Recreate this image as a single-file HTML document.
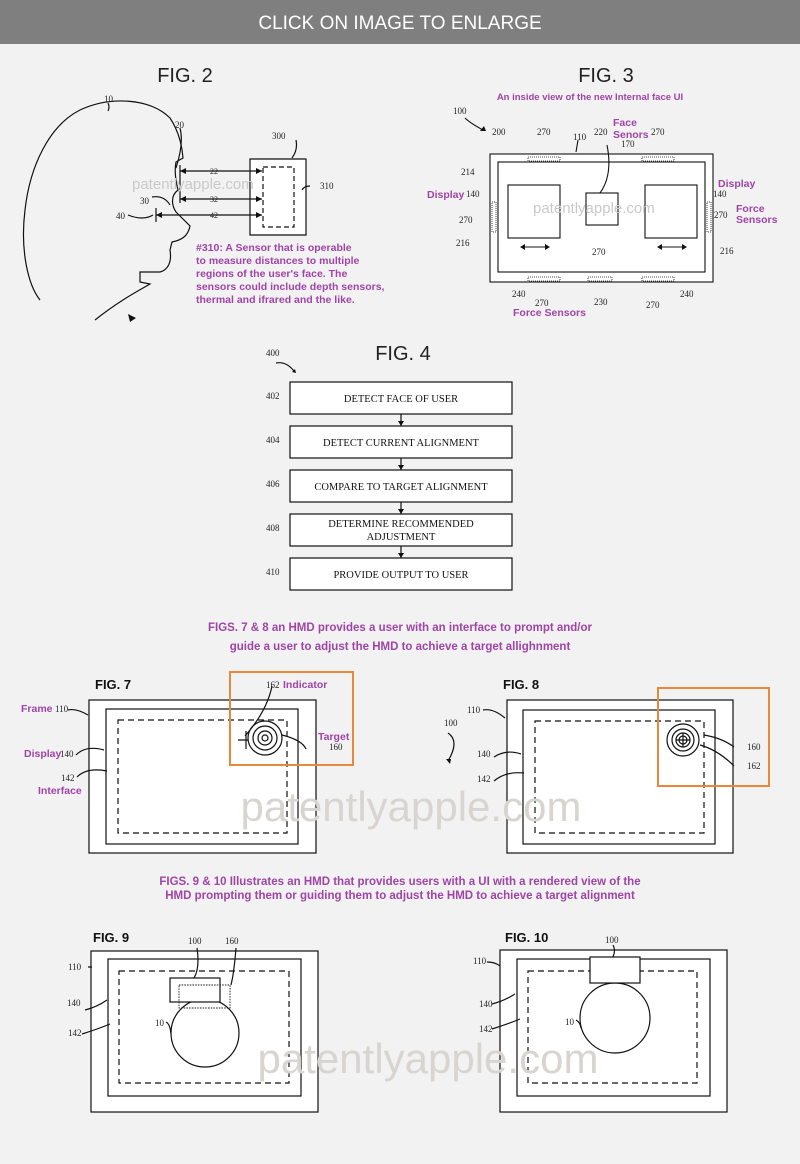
<!DOCTYPE html>
<html><head><meta charset="utf-8"><style>
html,body{margin:0;padding:0;background:#f2f2f2}
svg{display:block}
</style></head><body>
<svg width="800" height="1164" viewBox="0 0 800 1164" xmlns="http://www.w3.org/2000/svg" font-family="Liberation Sans, sans-serif">
<rect width="800" height="1164" fill="#f2f2f2"/>
<rect width="800" height="44" fill="#7f7f7f"/>
<text x="400" y="29" text-anchor="middle" fill="#fff" font-size="19">CLICK ON IMAGE TO ENLARGE</text>

<g stroke="#111" fill="none" stroke-width="1.2">
<!-- FIG 2 head -->
<path d="M40,300 C28,285 20,250 25,210 C30,165 50,125 80,110 C110,96 150,98 170,118 C178,130 182,145 183,158 L176,162 C174,172 176,182 178,190 C170,196 172,206 176,212 L190,226 C188,236 182,240 172,242 L170,250 C172,262 168,270 160,272 L140,272 L140,282 L150,284 C140,290 120,300 95,320"/>
<path d="M250,159h56v76h-56z" fill="#fff"/>
<path d="M263,167h31v60h-31z" stroke-dasharray="5,3"/>
<path d="M180,171h82M180,199h82M156,215h106M180,165v38M156,208v14"/>
<path d="M108,103 q2,4 0,8M180,128 q4,15 -4,40M296,140 q2,10 -4,18M310,186 q-6,0 -8,4M152,197 q12,-2 18,8M128,215 q15,6 25,0"/>
</g>
<g fill="#111"><path d="M262,171l-6,-3v6zM262,199l-6,-3v6zM262,215l-6,-3v6zM180,171l6,-3v6zM180,199l6,-3v6zM156,215l6,-3v6z"/><path d="M128,314l8,4l-6,4z"/></g>
<text x="185" y="82" text-anchor="middle" font-size="20" fill="#222">FIG. 2</text>
<g font-family="Liberation Serif, serif" font-size="9" fill="#222">
<text x="104" y="102">10</text><text x="175" y="128">20</text><text x="272" y="139">300</text>
<text x="320" y="189">310</text><text x="140" y="204">30</text><text x="116" y="219">40</text>
<text x="210" y="174" font-size="8">22</text><text x="210" y="202" font-size="8">32</text><text x="210" y="218" font-size="8">42</text></g>
<text x="132" y="189" fill="#c9c9c9" font-size="15">patentlyapple.com</text>
<g fill="#a044a8" font-weight="bold" font-size="10.5">
<text x="196" y="251">#310: A Sensor that is operable</text>
<text x="196" y="264">to measure distances to multiple</text>
<text x="196" y="277">regions of the user's face. The</text>
<text x="196" y="290">sensors could include depth sensors,</text>
<text x="196" y="303">thermal and ifrared and the like.</text></g>

<!-- FIG 3 -->
<text x="606" y="82" text-anchor="middle" font-size="20" fill="#222">FIG. 3</text>
<text x="590" y="100" text-anchor="middle" font-size="9.5" fill="#a044a8" font-weight="bold">An inside view of the new Internal face UI</text>
<g stroke="#111" fill="none" stroke-width="1.1">
<rect x="490" y="154" width="223" height="128" fill="#fff"/>
<rect x="498" y="162" width="207" height="110"/>
<rect x="508" y="185" width="52" height="53"/><rect x="586" y="193" width="32" height="32"/><rect x="645" y="185" width="52" height="53"/>
<g stroke-width="0.8" stroke-dasharray="1,1"><rect x="528" y="157" width="32" height="4"/><rect x="642" y="157" width="32" height="4"/><rect x="528" y="277" width="32" height="4"/><rect x="588" y="277" width="24" height="4"/><rect x="642" y="277" width="32" height="4"/><rect x="492" y="202" width="4" height="30"/><rect x="707" y="202" width="4" height="30"/></g>
<path d="M522,247h26M659,247h26M465,118 q5,5 18,12M578,140 l-2,12M607,145 q6,30 -7,48"/>
</g>
<g fill="#111"><path d="M520,247l5,-3v6zM550,247l-5,-3v6zM657,247l5,-3v6zM687,247l-5,-3v6zM486,131l-6,0l4,-5z"/></g>
<g font-family="Liberation Serif, serif" font-size="9" fill="#222"><text x="453" y="114">100</text><text x="492" y="135">200</text><text x="537" y="135">270</text><text x="573" y="140">110</text><text x="594" y="135">220</text><text x="621" y="147">170</text><text x="651" y="135">270</text>
<text x="461" y="175">214</text><text x="466" y="197">140</text><text x="459" y="223">270</text><text x="456" y="246">216</text>
<text x="713" y="197">140</text><text x="714" y="218">270</text><text x="720" y="254">216</text>
<text x="592" y="255">270</text><text x="512" y="297">240</text><text x="535" y="306">270</text><text x="594" y="305">230</text><text x="646" y="308">270</text><text x="680" y="297">240</text></g>
<g fill="#a044a8" font-weight="bold" font-size="10.5"><text x="427" y="198">Display</text><text x="613" y="126">Face</text><text x="613" y="138">Senors</text><text x="718" y="187">Display</text><text x="736" y="212">Force</text><text x="736" y="223">Sensors</text><text x="513" y="316">Force Sensors</text></g>
<text x="533" y="213" fill="#c9c9c9" font-size="15">patentlyapple.com</text>

<!-- FIG 4 -->
<text x="403" y="360" text-anchor="middle" font-size="20" fill="#222">FIG. 4</text>
<g stroke="#111" fill="#fff" stroke-width="1.2">
<rect x="290" y="382" width="222" height="32"/><rect x="290" y="426" width="222" height="32"/><rect x="290" y="470" width="222" height="32"/><rect x="290" y="514" width="222" height="32"/><rect x="290" y="558" width="222" height="32"/>
<path d="M401,414v12M401,458v12M401,502v12M401,546v12" fill="none"/><path d="M276,363 q10,-2 18,8" fill="none"/>
</g>
<g fill="#111"><path d="M401,426l-3,-5h6zM401,470l-3,-5h6zM401,514l-3,-5h6zM401,558l-3,-5h6zM296,373l-4,-1l3,-3z"/></g>
<g font-family="Liberation Serif, serif" font-size="9" fill="#222"><text x="266" y="356">400</text><text x="266" y="399">402</text><text x="266" y="443">404</text><text x="266" y="487">406</text><text x="266" y="531">408</text><text x="266" y="575">410</text></g>
<g font-family="Liberation Serif, serif" font-size="10.5" fill="#111" text-anchor="middle"><text x="401" y="402">DETECT FACE OF USER</text><text x="401" y="446">DETECT CURRENT ALIGNMENT</text><text x="401" y="490">COMPARE TO TARGET ALIGNMENT</text><text x="401" y="527">DETERMINE RECOMMENDED</text><text x="401" y="540">ADJUSTMENT</text><text x="401" y="578">PROVIDE OUTPUT TO USER</text></g>

<g fill="#a044a8" font-weight="bold" font-size="11.5" text-anchor="middle">
<text x="400" y="631">FIGS. 7 &amp; 8 an HMD provides a user with an interface to prompt and/or</text>
<text x="400" y="650">guide a user to adjust the HMD to achieve a target allighnment</text></g>

<!-- FIG 7 -->
<text x="95" y="689" font-weight="bold" font-size="13" fill="#111">FIG. 7</text>
<g stroke="#111" fill="none" stroke-width="1.2">
<rect x="89" y="700" width="227" height="153" fill="#fff"/><rect x="106" y="709" width="192" height="135"/><rect x="118" y="720" width="169" height="113" stroke-dasharray="6,4"/>
<circle cx="265" cy="738" r="17"/><circle cx="265" cy="738" r="12"/><circle cx="265" cy="738" r="7"/><circle cx="265" cy="738" r="3"/>
<path d="M238,740h10M246,731v18M272,686 q-5,25 -27,50M282,735 q20,5 24,14M68,710 q8,-2 20,5M76,755 q10,-10 28,-5M77,777 q10,-10 30,-6"/>
</g>
<rect x="230" y="672" width="123" height="93" fill="none" stroke="#e8883a" stroke-width="2"/>
<g font-family="Liberation Serif, serif" font-size="9" fill="#222"><text x="266" y="688">162</text><text x="55" y="712">110</text><text x="60" y="757">140</text><text x="61" y="781">142</text><text x="329" y="750">160</text></g>
<g fill="#a044a8" font-weight="bold" font-size="10.5"><text x="283" y="688">Indicator</text><text x="21" y="712">Frame</text><text x="24" y="757">Display</text><text x="318" y="740">Target</text><text x="38" y="794">Interface</text></g>

<!-- FIG 8 -->
<text x="503" y="689" font-weight="bold" font-size="13" fill="#111">FIG. 8</text>
<g stroke="#111" fill="none" stroke-width="1.2">
<rect x="507" y="700" width="226" height="153" fill="#fff"/><rect x="523" y="710" width="192" height="134"/><rect x="535" y="721" width="169" height="112" stroke-dasharray="6,4"/>
<circle cx="683" cy="740" r="16"/><circle cx="683" cy="740" r="11"/><circle cx="683" cy="740" r="7"/><circle cx="683" cy="740" r="4"/>
<path d="M676,740h14M683,733v14M704,735 q18,3 30,12M700,745 q18,5 34,21M483,710 q10,-2 22,8M494,757 q12,-8 27,-3M494,781 q12,-10 30,-8M448,733 q12,8 0,28"/>
</g>
<path d="M450,764l-4,-5l5,0z" fill="#111"/>
<rect x="658" y="688" width="111" height="98" fill="none" stroke="#e8883a" stroke-width="2"/>
<g font-family="Liberation Serif, serif" font-size="9" fill="#222"><text x="467" y="713">110</text><text x="444" y="726">100</text><text x="477" y="757">140</text><text x="477" y="782">142</text><text x="747" y="750">160</text><text x="747" y="769">162</text></g>

<text x="411" y="821" text-anchor="middle" fill="#d8d4d0" font-size="42">patentlyapple.com</text>

<g fill="#a044a8" font-weight="bold" font-size="11.5" text-anchor="middle">
<text x="400" y="885">FIGS. 9 &amp; 10 Illustrates an HMD that provides users with a UI with a rendered view of the</text>
<text x="400" y="899">HMD prompting them or guiding them to adjust the HMD to achieve a target alignment</text></g>

<!-- FIG 9 -->
<text x="93" y="942" font-weight="bold" font-size="13" fill="#111">FIG. 9</text>
<g stroke="#111" fill="none" stroke-width="1.2">
<rect x="91" y="951" width="227" height="161" fill="#fff"/><rect x="108" y="959" width="193" height="137"/><rect x="119" y="971" width="170" height="112" stroke-dasharray="6,4"/>
<circle cx="205" cy="1033" r="34"/><rect x="170" y="978" width="50" height="24" fill="#fff"/>
<rect x="179" y="985" width="51" height="23" stroke-dasharray="1.5,1.2" stroke-width="0.9"/>
<path d="M197,948 q3,20 -3,30M236,948 q-2,25 -5,37M85,1010 q12,-3 22,-10M82,1034 q16,-5 28,-10M166,1022 q4,2 5,12M88,967 h4"/>
</g>
<g font-family="Liberation Serif, serif" font-size="9" fill="#222"><text x="188" y="944">100</text><text x="225" y="944">160</text><text x="68" y="970">110</text><text x="67" y="1006">140</text><text x="68" y="1036">142</text><text x="155" y="1026">10</text></g>

<!-- FIG 10 -->
<text x="505" y="942" font-weight="bold" font-size="13" fill="#111">FIG. 10</text>
<g stroke="#111" fill="none" stroke-width="1.2">
<rect x="500" y="950" width="227" height="162" fill="#fff"/><rect x="517" y="959" width="193" height="137"/><rect x="528" y="971" width="169" height="112" stroke-dasharray="6,4"/>
<circle cx="615" cy="1018" r="35"/><rect x="590" y="957" width="50" height="26" fill="#fff"/>
<path d="M613,945 q3,5 0,12M487,962 q8,0 13,4M492,1004 q12,-3 23,-10M492,1029 q16,-5 28,-10M576,1020 q4,2 5,8"/>
</g>
<g font-family="Liberation Serif, serif" font-size="9" fill="#222"><text x="605" y="943">100</text><text x="473" y="964">110</text><text x="479" y="1007">140</text><text x="479" y="1032">142</text><text x="565" y="1025">10</text></g>

<text x="428" y="1073" text-anchor="middle" fill="#d8d4d0" font-size="42">patentlyapple.com</text>
</svg>
</body></html>
